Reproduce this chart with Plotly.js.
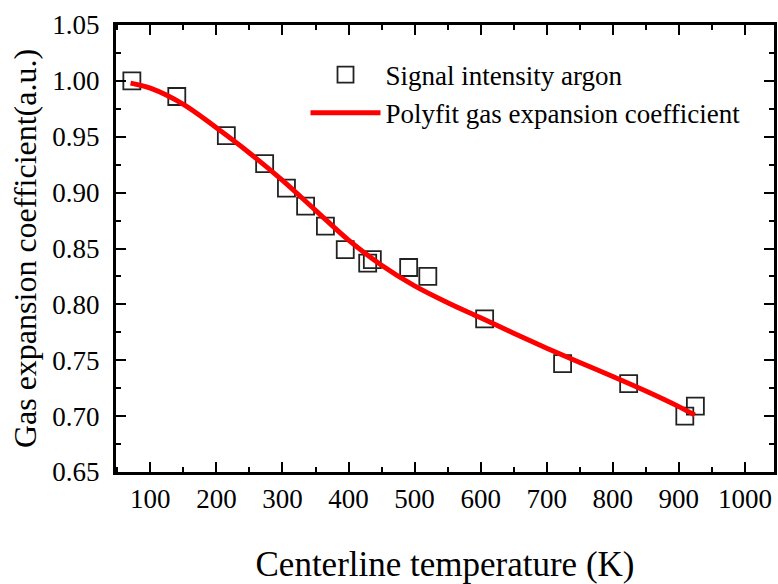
<!DOCTYPE html>
<html>
<head>
<meta charset="utf-8">
<script src="https://cdn.plot.ly/plotly-3.0.1.min.js"></script>
<style>
  html, body { margin: 0; padding: 0; background: #ffffff; }
  #chart { width: 778px; height: 584px; }
</style>
</head>
<body>
<div id="chart"></div>
<script>
// Measured argon signal intensity versus centerline temperature
var tempK = [72, 140, 215, 273, 306, 335, 365, 395, 429, 436, 491, 520, 606, 724, 824, 909, 925];
var signalArgon = [1.000, 0.986, 0.951, 0.926, 0.904, 0.888, 0.870, 0.849, 0.837, 0.840, 0.833, 0.825, 0.787, 0.747, 0.729, 0.700, 0.709];

// Polynomial fit of the gas expansion coefficient
var fitTempK = [70, 100, 150, 200, 250, 300, 350, 400, 450, 500, 550, 600, 650, 700, 750, 800, 850, 900, 924];
var fitCoeff = [0.998, 0.9935, 0.979, 0.958, 0.9355, 0.911, 0.8842, 0.8575, 0.835, 0.8165, 0.8015, 0.788, 0.7742, 0.7608, 0.748, 0.7355, 0.7225, 0.7085, 0.701];

var xTickVals = [100, 200, 300, 400, 500, 600, 700, 800, 900, 1000];
var yTickVals = [0.65, 0.70, 0.75, 0.80, 0.85, 0.90, 0.95, 1.00, 1.05];
var yTickText = ['0.65', '0.70', '0.75', '0.80', '0.85', '0.90', '0.95', '1.00', '1.05'];

var serif = "'Liberation Serif', 'Times New Roman', serif";

var traces = [
  {
    x: tempK,
    y: signalArgon,
    mode: 'markers',
    type: 'scatter',
    name: 'Signal intensity argon',
    marker: {
      symbol: 'square-open',
      size: 17,
      color: '#222222',
      line: { width: 1.8, color: '#222222' }
    }
  },
  {
    x: fitTempK,
    y: fitCoeff,
    mode: 'lines',
    type: 'scatter',
    name: 'Polyfit gas expansion coefficient',
    line: { color: '#ff0000', width: 5, shape: 'spline', smoothing: 1 }
  }
];

var axisCommon = {
  showline: true,
  linecolor: '#000000',
  linewidth: 3,
  mirror: 'ticks',
  ticks: 'inside',
  ticklen: 10,
  tickwidth: 2,
  tickcolor: '#000000',
  showgrid: false,
  zeroline: false,
  tickfont: { family: serif, size: 27, color: '#000000' }
};

var layout = {
  width: 778,
  height: 584,
  margin: { l: 116, r: 4, t: 25, b: 112 },
  paper_bgcolor: '#ffffff',
  plot_bgcolor: '#ffffff',
  showlegend: true,
  xaxis: Object.assign({}, axisCommon, {
    range: [48, 1044],
    tickmode: 'array',
    tickvals: xTickVals,
    ticklabelstandoff: 1,
    minor: { dtick: 50, tick0: 0, ticks: 'inside', ticklen: 5, tickwidth: 2, tickcolor: '#000000' },
    title: { text: 'Centerline temperature (K)', font: { family: serif, size: 35, color: '#000000' }, standoff: 46 }
  }),
  yaxis: Object.assign({}, axisCommon, {
    range: [0.65, 1.05],
    tickmode: 'array',
    tickvals: yTickVals,
    ticktext: yTickText,
    ticklabelstandoff: 8,
    minor: { dtick: 0.025, tick0: 0, ticks: 'inside', ticklen: 5, tickwidth: 2, tickcolor: '#000000' },
    title: { text: 'Gas expansion coefficient(a.u.)', font: { family: serif, size: 32, color: '#000000' }, standoff: 7 }
  }),
  legend: {
    x: 0.288,
    y: 0.943,
    xanchor: 'left',
    yanchor: 'top',
    bgcolor: 'rgba(0,0,0,0)',
    borderwidth: 0,
    itemwidth: 70,
    tracegroupgap: 0,
    font: { family: serif, size: 27, color: '#000000' }
  }
};

Plotly.newPlot('chart', traces, layout, { staticPlot: true, displayModeBar: false });
</script>
</body>
</html>
